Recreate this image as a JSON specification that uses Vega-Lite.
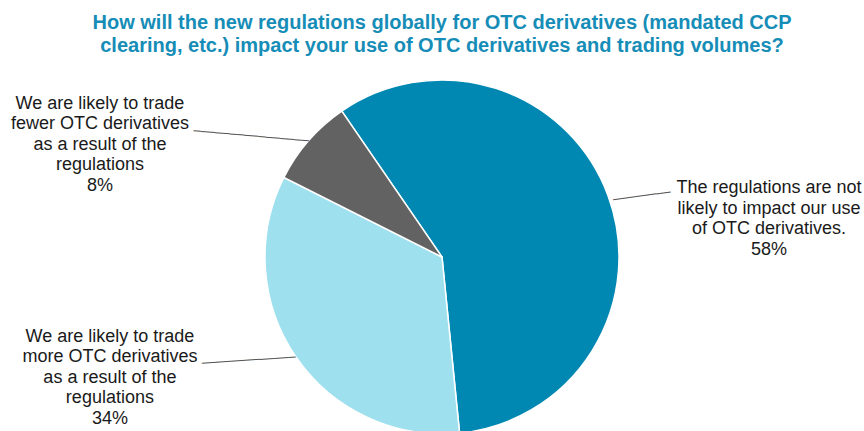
{
  "$schema": "https://vega.github.io/schema/vega-lite/v6.json",
  "width": 864,
  "height": 394,
  "autosize": {"type": "none"},
  "padding": {"top": 60, "left": 10, "right": 0, "bottom": 0},
  "background": "white",
  "config": {"view": {"stroke": null}},
  "title": {
    "text": ["How will the new regulations globally for OTC derivatives (mandated CCP", "clearing, etc.) impact your use of OTC derivatives and trading volumes?"],
    "font": "Liberation Sans",
    "fontSize": 20,
    "fontWeight": "bold",
    "color": "#168db7",
    "lineHeight": 23,
    "anchor": "middle",
    "offset": 4
  },
  "data": {
    "values": [
      {"category": "Not likely to impact", "share": 58, "order": 1, "label": "The regulations are not\nlikely to impact our use\nof OTC derivatives.\n58%"},
      {"category": "Trade more", "share": 34, "order": 2, "label": "We are likely to trade\nmore OTC derivatives\nas a result of the\nregulations\n34%"},
      {"category": "Trade fewer", "share": 8, "order": 3, "label": "We are likely to trade\nfewer OTC derivatives\nas a result of the\nregulations\n8%"}
    ]
  },
  "transform": [
    {"stack": "share", "groupby": [], "sort": [{"field": "order", "order": "ascending"}], "as": ["s0", "s1"]}
  ],
  "layer": [
    {
      "mark": {"type": "arc", "outerRadius": 177, "stroke": "white", "strokeWidth": 1.5},
      "encoding": {
        "theta": {"field": "s0", "type": "quantitative", "stack": null, "scale": {"domain": [0, 100], "range": [-0.6021, 5.6811]}},
        "theta2": {"field": "s1"},
        "color": {"field": "category", "type": "nominal", "legend": null,
          "scale": {"domain": ["Not likely to impact", "Trade more", "Trade fewer"], "range": ["#0088b2", "#9ee0ee", "#626262"]}}
      }
    },
    {
      "transform": [{"filter": "datum.order == 1"}],
      "mark": {"type": "text", "radius": 334.2, "thetaOffset": 1.965, "font": "Liberation Sans", "fontSize": 18, "lineHeight": 20.5, "color": "#1a1a1a", "align": "center", "baseline": "middle", "lineBreak": "\n"},
      "encoding": {
        "theta": {"field": "s0", "type": "quantitative", "stack": null},
        "text": {"field": "label"}
      }
    },
    {
      "transform": [{"filter": "datum.order == 2"}],
      "mark": {"type": "text", "radius": 341.5, "thetaOffset": 1.435, "font": "Liberation Sans", "fontSize": 18, "lineHeight": 20.5, "color": "#1a1a1a", "align": "center", "baseline": "middle", "lineBreak": "\n"},
      "encoding": {
        "theta": {"field": "s0", "type": "quantitative", "stack": null},
        "text": {"field": "label"}
      }
    },
    {
      "transform": [{"filter": "datum.order == 3"}],
      "mark": {"type": "text", "radius": 374.7, "thetaOffset": -0.0454, "font": "Liberation Sans", "fontSize": 18, "lineHeight": 20.5, "color": "#1a1a1a", "align": "center", "baseline": "middle", "lineBreak": "\n"},
      "encoding": {
        "theta": {"field": "s0", "type": "quantitative", "stack": null},
        "text": {"field": "label"}
      }
    },
    {
      "transform": [{"filter": "datum.order == 1"}],
      "mark": {"type": "text", "text": "────────", "radius": 209, "thetaOffset": 1.876, "angle": -7.6, "font": "DejaVu Sans Mono", "fontSize": 12, "color": "#595959", "align": "center", "baseline": "middle"},
      "encoding": {"theta": {"field": "s0", "type": "quantitative", "stack": null}}
    },
    {
      "transform": [{"filter": "datum.order == 2"}],
      "mark": {"type": "text", "text": "─────────────", "radius": 219, "thetaOffset": 1.180, "angle": -3.7, "font": "DejaVu Sans Mono", "fontSize": 12, "color": "#595959", "align": "center", "baseline": "middle"},
      "encoding": {"theta": {"field": "s0", "type": "quantitative", "stack": null}}
    },
    {
      "transform": [{"filter": "datum.order == 3"}],
      "mark": {"type": "text", "text": "────────────────", "radius": 226, "thetaOffset": 0.0995, "angle": 5, "font": "DejaVu Sans Mono", "fontSize": 12, "color": "#595959", "align": "center", "baseline": "middle"},
      "encoding": {"theta": {"field": "s0", "type": "quantitative", "stack": null}}
    }
  ]
}
